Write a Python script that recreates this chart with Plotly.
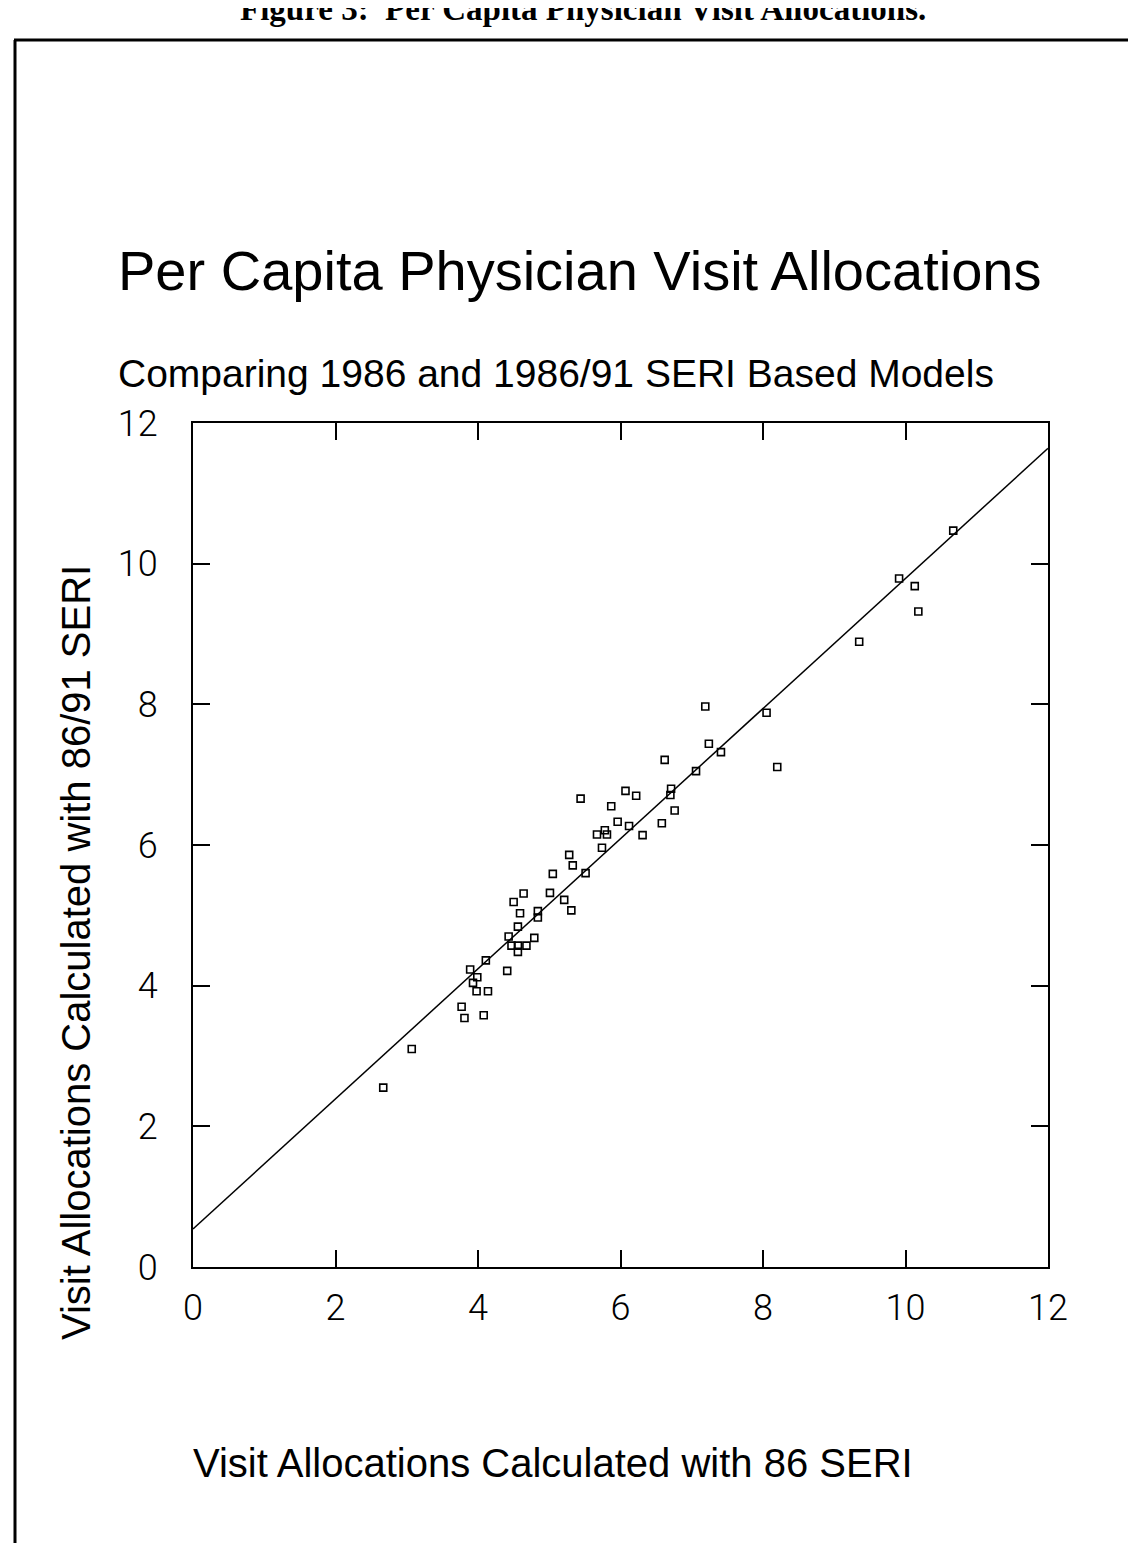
import plotly.graph_objects as go

# Data
x86 = [2.67, 3.07, 3.81, 3.77, 4.08, 3.98, 4.14, 3.93, 3.99, 3.89, 4.41, 4.11, 4.56, 4.47, 4.56,
       4.68, 4.79, 4.43, 4.56, 4.84, 4.59, 4.84, 5.31, 5.21, 4.50, 5.01, 4.64, 5.51, 5.05, 5.33,
       5.28, 5.44, 5.67, 5.78, 5.81, 5.74, 5.87, 5.96, 6.07, 6.12, 6.22, 6.31, 6.58, 6.62, 6.70,
       6.71, 6.76, 7.06, 7.19, 7.24, 7.41, 8.05, 8.20, 9.35, 9.91, 10.13, 10.18, 10.67]
y8691 = [2.55, 3.10, 3.54, 3.70, 3.58, 3.92, 3.92, 4.04, 4.12, 4.23, 4.21, 4.36, 4.48, 4.57, 4.57,
         4.57, 4.68, 4.70, 4.84, 4.97, 5.03, 5.06, 5.07, 5.22, 5.19, 5.32, 5.31, 5.60, 5.59, 5.71,
         5.86, 6.66, 6.15, 6.21, 6.15, 5.96, 6.55, 6.33, 6.77, 6.27, 6.70, 6.14, 6.31, 7.21, 6.71,
         6.80, 6.49, 7.05, 7.97, 7.44, 7.32, 7.88, 7.11, 8.89, 9.79, 9.68, 9.32, 10.47]

fit_x = [0, 12]
fit_y = [0.54, 11.64]

tick_vals = [0, 2, 4, 6, 8, 10, 12]
tick_text = ["0", "2", "4", "6", "8", "10", "12"]

W, H = 1136, 1543
L, R, T, B = 185, 1040, 415, 1259  # plot box in pixels


def px(xp):
    return (xp - L) / (R - L)


def py(yp):
    return (B - yp) / (B - T)


fig = go.Figure()
fig.add_trace(go.Scatter(x=fit_x, y=fit_y, mode="lines",
                         line=dict(color="black", width=1.5), showlegend=False))
fig.add_trace(go.Scatter(x=x86, y=y8691, mode="markers",
                         marker=dict(symbol="square-open", size=7, color="black",
                                     line=dict(width=1.6, color="black")),
                         showlegend=False))

tickfont = dict(family="Roboto", size=36, color="black", weight=300)
axis_common = dict(range=[0, 12], tickvals=tick_vals, ticktext=tick_text,
                   ticks="inside", ticklen=17, tickwidth=1.5, tickcolor="black",
                   showline=True, linecolor="black", linewidth=2, mirror="ticks",
                   showgrid=False, zeroline=False, tickfont=tickfont)

fig.update_xaxes(**axis_common, ticklabelstandoff=8)
fig.update_yaxes(**axis_common, ticklabelstandoff=26)

annotations = [
    dict(text="<b>Figure 3:  Per Capita Physician Visit Allocations.</b>",
         x=px(575), y=py(1), xanchor="center", yanchor="middle",
         font=dict(family="Liberation Serif", size=33, color="black")),
    dict(text="Per Capita Physician Visit Allocations",
         x=px(108), y=py(262), xanchor="left", yanchor="middle",
         font=dict(family="Liberation Sans", size=56, color="black")),
    dict(text="Comparing 1986 and 1986/91 SERI Based Models",
         x=px(108), y=py(365), xanchor="left", yanchor="middle",
         font=dict(family="Liberation Sans", size=39, color="black")),
    dict(text="Visit Allocations Calculated with 86/91 SERI",
         x=px(68), y=py(945), xanchor="center", yanchor="middle", textangle=-90,
         font=dict(family="Liberation Sans", size=40, color="black")),
    dict(text="Visit Allocations Calculated with 86 SERI",
         x=px(545), y=py(1455), xanchor="center", yanchor="middle",
         font=dict(family="Liberation Sans", size=40, color="black")),
]
for a in annotations:
    a.update(xref="paper", yref="paper", showarrow=False)

shapes = [
    dict(type="line", xref="paper", yref="paper", x0=px(6), x1=px(1136), y0=py(32), y1=py(32),
         line=dict(color="black", width=3)),
    dict(type="line", xref="paper", yref="paper", x0=px(7), x1=px(7), y0=py(32), y1=py(1543),
         line=dict(color="black", width=3)),
]

fig.update_layout(
    width=W, height=H,
    margin=dict(l=L, r=W - R, t=T, b=H - B, pad=0),
    paper_bgcolor="white", plot_bgcolor="white",
    annotations=annotations, shapes=shapes,
)

fig.write_html("out.html")
